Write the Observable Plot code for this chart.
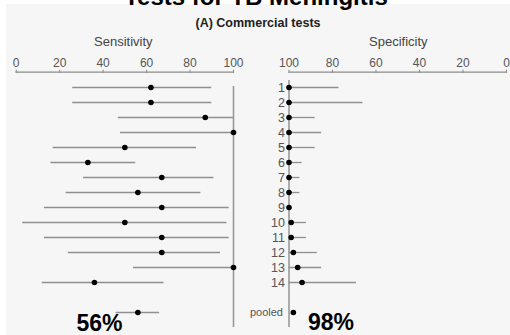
<!DOCTYPE html>
<html>
<head>
<meta charset="utf-8">
<script src="https://cdn.jsdelivr.net/npm/d3@7"></script>
<script src="https://cdn.jsdelivr.net/npm/@observablehq/plot@0.6"></script>
<style>
  html, body { margin: 0; padding: 0; background: #ffffff; }
  #root { position: relative; width: 510px; height: 335px; overflow: hidden; font-family: "Liberation Sans", Arial, sans-serif; }
  #panel { position: absolute; left: 6px; top: 4px; right: 0; bottom: 0; background: #f6f6f6; }
  .t { position: absolute; white-space: nowrap; text-align: center; width: 300px; }
  .plot { position: absolute; top: 50px; }
  .plot svg { overflow: visible; background: transparent; }
</style>
</head>
<body>
<div id="root">
  <div id="panel"></div>
</div>
<script>
// ---- data ----
const studies = ["1","2","3","4","5","6","7","8","9","10","11","12","13","14","pooled"];
const sensPoint = [62, 62, 87, 100, 50, 33, 67, 56, 67, 50, 67, 67, 100, 36, 56];
const sensLow   = [26, 26, 47,  48, 17, 16, 31, 23, 13,  3, 13, 24,  54, 12, 46];
const sensHigh  = [90, 90, 100, 100, 83, 55, 91, 85, 98, 97, 98, 94, 100, 68, 66];
const specPoint = [100, 100, 100, 100, 100, 100, 100, 100, 100, 99, 99, 98, 96, 94, 98];
const specLow   = [77, 66, 88, 85, 88, 94, 95, 95, 100, 92, 92, 87, 85, 69, 98];
const specHigh  = [100, 100, 100, 100, 100, 100, 100, 100, 100, 100, 100, 100, 100, 100, 98];
const ticks = [0, 20, 40, 60, 80, 100];
const titleText = "Tests for TB Meningitis";
const subtitleText = "(A) Commercial tests";
const panelTitles = ["Sensitivity", "Specificity"];
const pooledText = ["56%", "98%"];

// ---- build tables ----
const rows = studies.map((s, i) => ({
  study: s,
  sens: sensPoint[i], sensLo: sensLow[i], sensHi: sensHigh[i],
  spec: specPoint[i], specLo: specLow[i], specHi: specHigh[i]
}));
const yDomain = [...studies.slice(0, -1), " ", studies[studies.length - 1]];

const W = 255, H = 285;
const yScale = {type: "point", domain: yDomain, range: [37.3, 262.3], padding: 0, axis: null};
const lineColor = "#8f8f8f";
const axisColor = "#8a8a8a";

function panel(opts) {
  return Plot.plot({
    width: W,
    height: H,
    marginTop: 21.7,
    marginBottom: 8,
    marginLeft: opts.ml,
    marginRight: opts.mr,
    style: {fontFamily: "Liberation Sans, Arial, sans-serif", fontSize: "12px", color: "#555", background: "transparent"},
    x: {domain: opts.domain, axis: null},
    y: yScale,
    marks: [
      Plot.frame({anchor: "top", stroke: axisColor, strokeWidth: 1.2}),
      Plot.axisX({anchor: "top", ticks: ticks, tickSize: 3, tickPadding: 2, stroke: axisColor, fill: "#555", fontSize: 12, label: null}),
      Plot.ruleX([100], {insetTop: opts.insetTop, stroke: "#9a9a9a", strokeWidth: 1.6}),
      Plot.ruleY(rows, {y: "study", x1: opts.lo, x2: opts.hi, stroke: lineColor, strokeWidth: 1.3}),
      Plot.dot(rows, {x: opts.pt, y: "study", r: 2.8, fill: "#000", stroke: null}),
      ...(opts.labels ? [
        Plot.text(rows.filter(d => d.study !== "pooled"), {x: 100, y: "study", text: "study", textAnchor: "end", dx: -4, fontSize: 12.5, fill: "#555"}),
        Plot.text(rows.filter(d => d.study === "pooled"), {x: 100, y: "study", text: "study", textAnchor: "end", dx: -6, fontSize: 11, fill: "#555"})
      ] : [])
    ]
  });
}

const left = panel({domain: [0, 100], ml: 15.7, mr: W - 233, lo: "sensLo", hi: "sensHi", pt: "sens", insetTop: 14.3, labels: false});
const right = panel({domain: [100, 0], ml: 288.5 - 255, mr: 4, lo: "specLo", hi: "specHi", pt: "spec", insetTop: 8.3, labels: true});

const root = document.getElementById("root");
const lw = document.createElement("div"); lw.className = "plot"; lw.style.left = "0px"; lw.appendChild(left); root.appendChild(lw);
const rw = document.createElement("div"); rw.className = "plot"; rw.style.left = "255px"; rw.appendChild(right); root.appendChild(rw);

// text helper: centre x, baseline y (Liberation Sans metrics, line-height = font size)
function addText(txt, cx, baseline, size, weight, color) {
  const d = document.createElement("div");
  d.className = "t";
  d.textContent = txt;
  d.style.fontSize = size + "px";
  d.style.lineHeight = size + "px";
  d.style.fontWeight = weight;
  d.style.color = color;
  d.style.left = (cx - 150) + "px";
  d.style.top = (baseline - 0.8465 * size) + "px";
  root.appendChild(d);
}
addText(titleText, 256, 5, 24, "bold", "#000");
addText(subtitleText, 258, 28, 12.5, "bold", "#222");
addText(panelTitles[0], 123.3, 46.5, 13, "normal", "#444");
addText(panelTitles[1], 398.3, 46.5, 13, "normal", "#444");
addText(pooledText[0], 99.5, 331, 23, "bold", "#000");
addText(pooledText[1], 331, 330.5, 23, "bold", "#000");
</script>
</body>
</html>
